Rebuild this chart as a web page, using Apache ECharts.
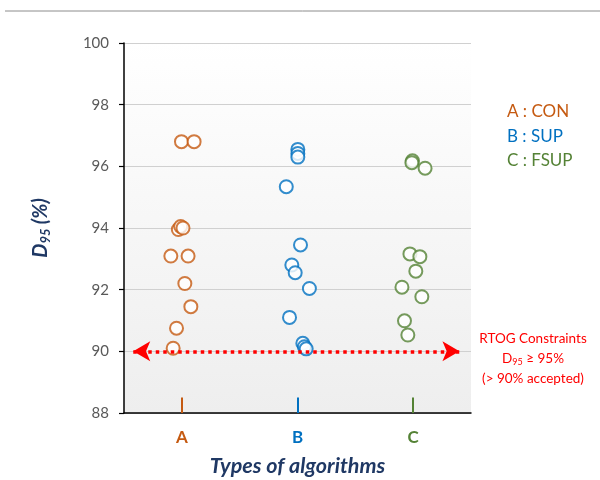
<!DOCTYPE html>
<html>
<head>
<meta charset="utf-8">
<script src="https://cdn.jsdelivr.net/npm/echarts@6/dist/echarts.min.js"></script>
<style>html,body{margin:0;padding:0;background:#fff}#chart{width:600px;height:480px}</style>
</head>
<body>
<div id="chart"></div>
<script>
// Category names, centred at 0.5, 1.5, 2.5 on the horizontal value axis
const categories = ['A', 'B', 'C'];
const categoryCenters = [0.5, 1.5, 2.5];
const legendLabels = ['A : CON', 'B : SUP', 'C : FSUP'];
const colors = ['#C55A11', '#0070C0', '#548235'];
const yTicks = [88, 90, 92, 94, 96, 98, 100];

// Per-plan D95 values (%) with horizontal jitter positions
const xA = [0.497, 0.606, 0.47, 0.49, 0.51, 0.405, 0.554, 0.526, 0.578, 0.454, 0.425];
const yA = [96.80, 96.80, 93.95, 94.05, 94.00, 93.09, 93.09, 92.20, 91.45, 90.75, 90.10];

const xB = [1.503, 1.503, 1.503, 1.403, 1.526, 1.451, 1.480, 1.603, 1.431, 1.546, 1.560, 1.575];
const yB = [96.55, 96.42, 96.30, 95.34, 93.45, 92.80, 92.55, 92.04, 91.10, 90.26, 90.15, 90.08];

const xC = [2.494, 2.489, 2.603, 2.472, 2.558, 2.523, 2.403, 2.575, 2.425, 2.454];
const yC = [96.18, 96.12, 95.94, 93.16, 93.07, 92.60, 92.08, 91.77, 90.99, 90.53];

// RTOG constraint line (accepted threshold) and its extent
const constraintValue = 90;
const constraintFrom = 0.08;
const constraintTo = 2.9;

const groups = [[xA, yA], [xB, yB], [xC, yC]];
const FONT = 'Lato, "Open Sans", sans-serif';

const series = groups.map(function (g, i) {
  return {
    type: 'scatter',
    name: legendLabels[i],
    data: g[0].map(function (x, k) { return [x, g[1][k]]; }),
    symbol: 'emptyCircle',
    symbolSize: 13,
    itemStyle: { color: colors[i], borderColor: colors[i], borderWidth: 2 },
    emphasis: { disabled: true },
    markLine: {
      silent: true,
      symbol: ['none', 'none'],
      label: { show: false },
      lineStyle: { color: colors[i], width: 2, type: 'solid' },
      data: [[{ coord: [categoryCenters[i], 88] }, { coord: [categoryCenters[i], 88.5] }]]
    },
    z: 3
  };
});

// Dotted red constraint arrow
series.push({
  type: 'scatter',
  data: [],
  markLine: {
    silent: true,
    symbol: ['arrow', 'arrow'],
    symbolSize: [15, 17],
    label: { show: false },
    lineStyle: { color: '#FF0000', width: 3.5, type: [3.5, 4] },
    data: [[{ coord: [constraintFrom, constraintValue] }, { coord: [constraintTo, constraintValue] }]]
  },
  z: 2
});

const chart = echarts.init(document.getElementById('chart'), null, { renderer: 'canvas' });
chart.setOption({
  animation: false,
  backgroundColor: '#fff',
  grid: {
    left: 124, right: 129, top: 43, bottom: 67,
    outerBoundsMode: 'none',
    containLabel: false,
    show: true,
    borderWidth: 0,
    backgroundColor: new echarts.graphic.LinearGradient(0, 0, 0, 1, [
      { offset: 0, color: '#FFFFFF' },
      { offset: 1, color: '#EEEEEE' }
    ])
  },
  xAxis: {
    type: 'value',
    min: 0, max: 3, interval: 0.5,
    splitLine: { show: false },
    axisTick: { show: false },
    axisLine: { show: true, lineStyle: { color: '#000', width: 1.5 } },
    axisLabel: {
      margin: 16,
      formatter: function (v) {
        const idx = categoryCenters.indexOf(v);
        return idx >= 0 ? '{c' + idx + '|' + categories[idx] + '}' : '';
      },
      rich: {
        c0: { color: colors[0], fontSize: 17, fontWeight: 'bold', fontFamily: FONT },
        c1: { color: colors[1], fontSize: 17, fontWeight: 'bold', fontFamily: FONT },
        c2: { color: colors[2], fontSize: 17, fontWeight: 'bold', fontFamily: FONT }
      }
    },
    name: 'Types of algorithms',
    nameLocation: 'middle',
    nameGap: 42,
    nameTextStyle: { color: '#1F3864', fontSize: 21.5, fontWeight: 'bold', fontStyle: 'italic', fontFamily: FONT }
  },
  yAxis: {
    type: 'value',
    min: yTicks[0], max: yTicks[yTicks.length - 1], interval: 2,
    axisLine: { show: true, lineStyle: { color: '#000', width: 1.5 } },
    axisTick: { show: true, length: 5, lineStyle: { color: '#000', width: 1.2 } },
    splitLine: { show: true, lineStyle: { color: '#D0D0D0', width: 1 } },
    axisLabel: { color: '#595959', fontSize: 15, fontFamily: FONT, margin: 15 },
    name: '{n|D}{s|95}{n| (%)}',
    nameLocation: 'middle',
    nameRotate: 90,
    nameGap: 72,
    nameTextStyle: {
      rich: {
        n: { color: '#1F3864', fontSize: 20, fontWeight: 'bold', fontStyle: 'italic', fontFamily: FONT },
        s: { color: '#1F3864', fontSize: 13, fontWeight: 'bold', fontStyle: 'italic', fontFamily: FONT, verticalAlign: 'bottom', padding: [9, 0, 0, 0] }
      }
    }
  },
  graphic: [
    { type: 'line', shape: { x1: 5, y1: 11, x2: 600, y2: 11 }, style: { stroke: '#8C8C8C', lineWidth: 1 } },
    { type: 'text', left: 507, top: 103, style: { text: legendLabels[0], fill: colors[0], font: '17px ' + FONT } },
    { type: 'text', left: 507, top: 128, style: { text: legendLabels[1], fill: colors[1], font: '17px ' + FONT } },
    { type: 'text', left: 507, top: 152, style: { text: legendLabels[2], fill: colors[2], font: '17px ' + FONT } },
    {
      type: 'text', x: 533, y: 329,
      style: {
        text: 'RTOG Constraints\n{n|D}{s|95}{n| ≥ 95%}\n(> 90% accepted)',
        align: 'center', fill: '#FF0000', font: '13.5px ' + FONT, lineHeight: 20,
        rich: {
          n: { fill: '#FF0000', fontSize: 13.5, fontFamily: FONT },
          s: { fill: '#FF0000', fontSize: 9, fontFamily: FONT, padding: [6, 0, 0, 0] }
        }
      }
    }
  ],
  series: series
});
</script>
</body>
</html>
